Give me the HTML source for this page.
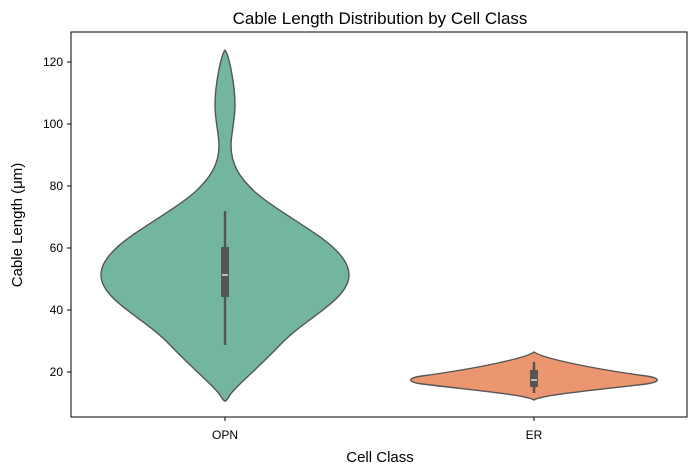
<!DOCTYPE html><html><head><style>body{margin:0;background:#fff}svg{display:block}text{font-family:"Liberation Sans","DejaVu Sans",sans-serif}</style></head><body>
<svg width="699" height="475" xmlns="http://www.w3.org/2000/svg">
<text x="380" y="24" font-size="17" text-anchor="middle">Cable Length Distribution by Cell Class</text>
<path fill="#72b6a1" stroke="#555" stroke-width="1.4" stroke-linejoin="round" d="M225,50 C221,55 215,85 215,105 C215,120 219,135 219,145 C219,165 210,178 195,192 C160,222 101,245 101,275 C101,300 145,318 170,345 C198,374 214,386 220,395 C223,400 224,401 225,401 C226,401 227,400 230,395 C236,386 252,374 280,345 C305,318 349,300 349,275 C349,245 290,222 255,192 C240,178 231,165 231,145 C231,135 235,120 235,105 C235,85 229,55 225,50 Z"/>
<path fill="#ec966f" stroke="#555" stroke-width="1.4" stroke-linejoin="round" d="M534,352 C526,358 480,368 422,376 C407,378 407,382 422,384 C480,391 526,395 534,400 C542,395 588,391 646,384 C661,382 661,378 646,376 C588,368 542,358 534,352 Z"/>
<g fill="#555" stroke="#555">
<line x1="225" y1="211" x2="225" y2="345" stroke-width="2.5"/>
<rect x="221" y="247" width="8" height="50" stroke="none"/>
<line x1="534" y1="362" x2="534" y2="393" stroke-width="2.5"/>
<rect x="530" y="370" width="8" height="17" stroke="none"/>
</g>
<line x1="222" y1="275" x2="228" y2="275" stroke="#fff" stroke-width="1.2"/>
<line x1="531" y1="380" x2="537" y2="380" stroke="#fff" stroke-width="1.2"/>
<rect x="71" y="32" width="616" height="385" fill="none" stroke="#000" stroke-width="1"/>
<g stroke="#000">
<line x1="67" y1="62" x2="71" y2="62"/><line x1="67" y1="124" x2="71" y2="124"/><line x1="67" y1="186" x2="71" y2="186"/><line x1="67" y1="248" x2="71" y2="248"/><line x1="67" y1="310" x2="71" y2="310"/><line x1="67" y1="372" x2="71" y2="372"/>
<line x1="225" y1="417" x2="225" y2="421"/><line x1="534" y1="417" x2="534" y2="421"/>
</g>
<g font-size="12" text-anchor="end">
<text x="63" y="66">120</text><text x="63" y="128">100</text><text x="63" y="190">80</text><text x="63" y="252">60</text><text x="63" y="314">40</text><text x="63" y="376">20</text>
</g>
<g font-size="12" text-anchor="middle"><text x="225" y="439">OPN</text><text x="534" y="439">ER</text></g>
<text x="380" y="462" font-size="15" text-anchor="middle">Cell Class</text>
<text transform="translate(22,225) rotate(-90)" font-size="15" text-anchor="middle">Cable Length (μm)</text>
</svg></body></html>
